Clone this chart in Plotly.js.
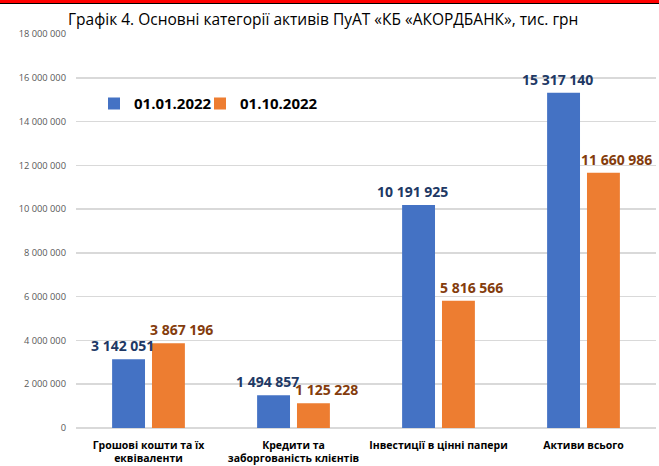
<!DOCTYPE html>
<html><head><meta charset="utf-8">
<script src="https://cdn.plot.ly/plotly-3.0.1.min.js"></script>
<style>html,body{margin:0;padding:0;background:#fff;}#chart{width:659px;height:466px;}
#red{position:absolute;left:0;top:0;width:659px;height:3px;background:#ff0000;}
#blk{position:absolute;left:0;top:3px;width:659px;height:1px;background:#000;}</style>
</head><body>
<div id="chart"></div><div id="red"></div><div id="blk"></div>
<script>
const categories = ["Грошові кошти та їх<br>еквіваленти", "Кредити та<br>заборгованість клієнтів", "Інвестиції в цінні папери", "Активи всього"];
const seriesNames = ["01.01.2022", "01.10.2022"];
const values2022_01 = [3142051, 1494857, 10191925, 15317140];
const values2022_10 = [3867196, 1125228, 5816566, 11660986];
const yTicks = [0, 2000000, 4000000, 6000000, 8000000, 10000000, 12000000, 14000000, 16000000, 18000000];

const fmt = v => String(v).replace(/\B(?=(\d{3})+(?!\d))/g, ' ');
const font = "Open Sans, Noto Sans, sans-serif";
const colors = ['#4472C4', '#ED7D31'];
const labelColors = ['#203864', '#843C0C'];

const traces = [
  {type:'bar', name:seriesNames[0], x:categories, y:values2022_01, marker:{color:colors[0]}, hoverinfo:'none', legend:'legend'},
  {type:'bar', name:seriesNames[1], x:categories, y:values2022_10, marker:{color:colors[1]}, hoverinfo:'none', legend:'legend2'}
];

const annotations = [];
[values2022_01, values2022_10].forEach((vals, s) => {
  vals.forEach((v, i) => {
    annotations.push({x:categories[i], y:v, xref:'x', yref:'y', text:fmt(v), showarrow:false,
      xanchor:'center', yanchor:'bottom', xshift:(s === 0 ? -26 : 33), yshift:2,
      font:{family:font, size:14, color:labelColors[s], weight:'bold'}});
  });
});

const legendFont = {family:font, size:15, color:'#000', weight:'bold'};
const layout = {
  width:659, height:466,
  margin:{l:76, r:3, t:34, b:38},
  paper_bgcolor:'#fff', plot_bgcolor:'#fff',
  separators:', ',
  barmode:'group', bargap:0.45, bargroupgap:0.175,
  title:{text:'Графік 4. Основні категорії активів ПуАТ «КБ «АКОРДБАНК», тис. грн',
    font:{family:font, size:15.5, color:'#000'}, xref:'container', x:68/659, xanchor:'left',
    yref:'container', y:1-20/466, yanchor:'middle'},
  xaxis:{tickfont:{family:font, size:10.5, color:'#000', weight:'bold'}, showgrid:false, showline:false, ticks:'', ticklabelstandoff:9, automargin:false},
  yaxis:{range:[0,18000000], tickvals:yTicks, tickformat:',d', tickfont:{family:font, size:9.3, color:'#595959'},
    gridcolor:'#d9d9d9', gridwidth:1.5, zeroline:true, zerolinecolor:'#d9d9d9', zerolinewidth:1.5,
    showline:false, ticklabelstandoff:9, automargin:false, fixedrange:true},
  legend:{orientation:'h', x:(94-76)/580, y:0.865, xanchor:'left', yanchor:'top', font:legendFont, bgcolor:'rgba(0,0,0,0)'},
  legend2:{orientation:'h', x:(200-76)/580, y:0.865, xanchor:'left', yanchor:'top', font:legendFont, bgcolor:'rgba(0,0,0,0)'},
  annotations:annotations,
  showlegend:true
};
Plotly.newPlot('chart', traces, layout, {staticPlot:true, displayModeBar:false});
</script>
</body></html>
